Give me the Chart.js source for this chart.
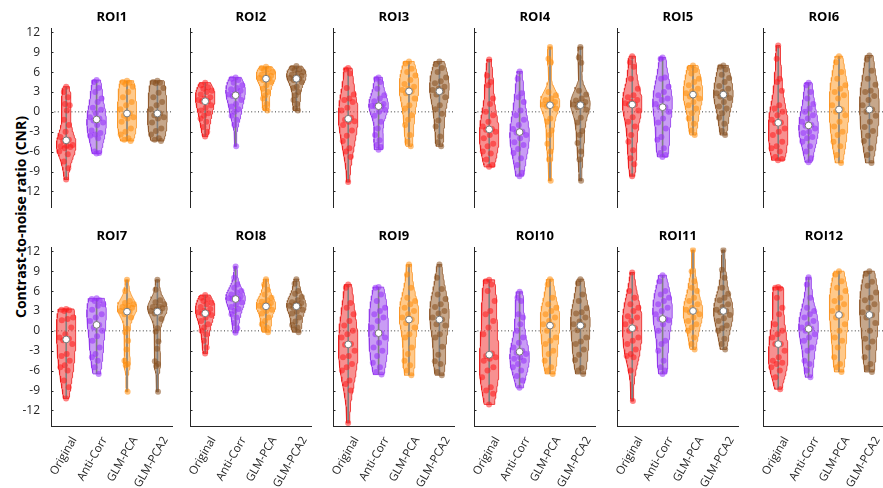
<!DOCTYPE html>
<html>
<head>
<meta charset="utf-8">
<script src="https://cdn.jsdelivr.net/npm/chart.js@4.4.1/dist/chart.umd.min.js"></script>
<style>
    html, body { margin: 0; padding: 0; background: #fff; }
    #wrap { position: relative; width: 883px; height: 488px; overflow: hidden; font-family: 'Open Sans', sans-serif; }
    .panel { position: absolute; }
    #ylabel {
        position: absolute; left: 20px; top: 217px;
        transform: translate(-50%, -50%) rotate(-90deg);
        font-weight: bold; font-size: 14px; white-space: nowrap; color: #000;
    }
</style>
</head>
<body>
<div id="wrap">
    <div id="ylabel">Contrast-to-noise ratio (CNR)</div>
</div>
<script>
// --- Data ---
const methods = ['Original', 'Anti-Corr', 'GLM-PCA', 'GLM-PCA2'];
const roiNames = ['ROI1', 'ROI2', 'ROI3', 'ROI4', 'ROI5', 'ROI6', 'ROI7', 'ROI8', 'ROI9', 'ROI10', 'ROI11', 'ROI12'];
const yTicks = [-12, -9, -6, -3, 0, 3, 6, 9, 12];

// each ROI: [Original, Anti-Corr, GLM-PCA, GLM-PCA2]
const roi1 = [
    [3.8, 3.0, 2.2, 1.2, 1.0, 0.2, -1.2, -2.0, -3.0, -3.8, -4.2, -4.4, -5.0, -5.1, -5.2, -5.3, -5.5, -6.0, -6.4, -7.5, -8.5, -10.2],
    [4.8, 4.5, 3.6, 3.0, 2.0, 1.5, 0.6, 0.3, -0.2, -0.8, -1.0, -1.3, -1.6, -2.0, -2.8, -3.2, -3.4, -3.6, -4.0, -6.0, -6.2, -6.3],
    [4.7, 4.5, 4.4, 4.2, 3.8, 3.0, 2.2, 1.5, 1.0, 0.4, -0.25, -0.6, -0.8, -1.0, -1.5, -2.5, -3.0, -3.4, -4.0, -4.2, -4.4],
    [4.7, 4.5, 4.4, 4.3, 3.6, 2.9, 2.2, 1.5, 1.0, 0.4, -0.25, -0.5, -0.8, -1.0, -1.6, -2.5, -2.9, -3.4, -4.0, -4.2, -4.4]
];
const roi2 = [
    [4.4, 4.0, 3.7, 3.5, 3.2, 3.0, 2.6, 2.2, 2.0, 1.8, 1.6, 1.6, 1.0, 0.6, 0.2, -0.2, -0.6, -1.0, -1.5, -2.3, -3.0, -3.7],
    [5.2, 5.0, 4.8, 4.4, 4.0, 3.6, 3.4, 3.2, 2.8, 2.6, 2.5, 2.4, 1.8, 1.2, 0.8, 0.4, 0.0, -0.6, -1.2, -2.0, -5.2],
    [6.8, 6.6, 6.5, 6.3, 6.0, 5.8, 5.6, 5.4, 5.2, 5.1, 5.0, 4.8, 4.5, 4.0, 3.5, 3.0, 2.5, 2.0, 1.2, 0.6, 0.2],
    [6.9, 6.6, 6.4, 6.3, 6.0, 5.8, 5.6, 5.4, 5.2, 5.1, 5.0, 4.8, 4.5, 3.8, 3.6, 3.0, 2.5, 1.8, 1.2, 0.5, 0.2]
];
const roi3 = [
    [6.6, 6.4, 5.8, 3.6, 2.6, 2.0, 1.8, 1.5, 0.6, 0.2, -0.9, -1.2, -1.4, -1.5, -2.0, -2.8, -3.6, -4.4, -5.5, -6.0, -6.8, -10.6],
    [5.2, 5.0, 4.5, 3.5, 2.5, 2.0, 1.6, 1.2, 1.0, 0.9, 0.85, 0.85, 0.3, 0.0, -0.6, -1.5, -2.5, -3.5, -4.3, -5.0, -5.3, -5.7],
    [7.6, 7.3, 6.5, 6.0, 5.5, 4.8, 4.2, 3.8, 3.5, 3.3, 3.1, 2.8, 2.0, 1.0, 0.5, -0.5, -1.2, -2.0, -3.5, -4.5, -5.2],
    [7.6, 7.2, 6.6, 6.0, 5.2, 4.6, 4.3, 3.8, 3.5, 3.3, 3.1, 2.6, 2.2, 1.0, 0.4, -0.3, -1.3, -2.2, -3.7, -4.6, -5.2]
];
const roi4 = [
    [7.9, 5.5, 4.5, 4.0, 2.0, 1.2, 0.0, -0.5, -1.5, -2.2, -2.6, -2.7, -3.0, -3.5, -4.0, -4.8, -5.2, -6.0, -6.3, -7.2, -8.0, -8.3],
    [6.1, 5.0, 2.8, 2.2, 1.5, 0.2, -0.5, -1.2, -2.0, -2.6, -3.0, -3.1, -3.5, -4.0, -4.6, -5.0, -5.6, -6.2, -7.0, -8.0, -9.2, -9.7],
    [9.8, 8.0, 7.5, 3.0, 2.5, 2.0, 1.8, 1.5, 1.3, 1.1, 1.0, 0.8, 0.5, -1.0, -1.5, -2.8, -3.5, -4.8, -6.0, -7.2, -10.4],
    [9.8, 8.2, 7.4, 3.2, 2.6, 2.0, 1.7, 1.5, 1.3, 1.1, 1.0, 0.7, 0.3, -0.9, -1.6, -2.9, -3.5, -4.7, -6.0, -7.2, -10.4]
];
const roi5 = [
    [8.4, 7.5, 6.8, 5.0, 3.5, 2.5, 2.2, 1.8, 1.5, 1.3, 1.1, 1.1, 0.2, -0.8, -1.5, -2.2, -3.5, -4.5, -5.8, -7.0, -7.9, -9.7],
    [8.2, 8.0, 5.2, 5.0, 3.8, 3.0, 2.5, 2.0, 1.8, 1.2, 0.7, 0.7, 0.0, -1.0, -1.6, -2.5, -3.8, -4.2, -5.5, -6.2, -6.5, -6.8],
    [7.0, 6.6, 6.3, 5.8, 5.0, 4.5, 4.0, 3.5, 3.1, 2.8, 2.6, 2.3, 2.0, 1.5, 1.0, 0.5, -0.2, -1.0, -1.8, -2.8, -3.5],
    [7.0, 6.8, 6.4, 5.6, 5.1, 4.5, 3.9, 3.5, 3.0, 2.8, 2.6, 2.3, 2.1, 1.5, 0.8, 0.5, -0.2, -0.9, -1.8, -2.9, -3.5]
];
const roi6 = [
    [10.0, 8.0, 5.0, 4.5, 3.2, 1.0, 0.5, 0.0, -0.5, -1.2, -1.6, -1.7, -2.5, -3.0, -3.5, -4.5, -5.2, -5.5, -6.0, -6.8, -7.1, -7.3],
    [4.4, 4.0, 3.0, 2.0, 1.2, 0.5, 0.0, -0.5, -1.0, -1.5, -2.0, -2.1, -2.5, -3.0, -3.2, -3.8, -4.0, -4.5, -5.2, -6.0, -7.0, -7.6],
    [8.4, 7.5, 6.0, 5.0, 4.0, 3.5, 3.0, 2.5, 2.0, 1.0, 0.35, 0.0, -0.5, -1.5, -2.2, -3.0, -3.5, -4.5, -5.2, -6.5, -7.7],
    [8.5, 7.9, 6.2, 5.0, 4.1, 3.2, 3.0, 2.4, 1.8, 1.0, 0.35, 0.0, -0.6, -1.5, -2.3, -2.9, -3.6, -4.4, -5.5, -6.5, -7.7]
];
const roi7 = [
    [3.3, 3.2, 3.1, 3.0, 2.0, 1.8, 1.6, 0.5, -0.5, -1.0, -1.2, -1.4, -2.0, -3.5, -3.8, -4.5, -5.2, -5.5, -6.0, -7.5, -8.5, -10.2],
    [4.9, 4.8, 4.6, 4.5, 4.0, 3.8, 3.2, 2.5, 2.0, 1.5, 0.9, 0.5, 0.0, -0.8, -1.5, -2.5, -3.5, -4.0, -4.5, -5.5, -6.5],
    [7.7, 6.0, 4.5, 4.2, 4.0, 3.8, 3.6, 3.5, 3.3, 3.0, 2.9, 2.5, 2.0, 0.3, -0.2, -1.5, -2.8, -4.5, -5.0, -5.2, -9.2],
    [7.7, 6.2, 4.6, 4.3, 4.0, 3.7, 3.6, 3.4, 3.2, 3.0, 2.9, 2.6, 1.8, 0.4, -0.1, -1.6, -2.7, -4.6, -5.0, -5.3, -9.2]
];
const roi8 = [
    [5.4, 5.0, 4.8, 4.5, 4.2, 4.0, 3.6, 3.3, 3.0, 2.8, 2.7, 2.6, 2.4, 2.0, 1.5, 1.0, 0.5, 0.0, -0.5, -1.5, -2.5, -3.4],
    [9.7, 8.0, 7.0, 6.5, 6.0, 5.8, 5.5, 5.2, 5.0, 4.9, 4.8, 4.8, 4.3, 4.0, 3.6, 3.3, 3.0, 2.5, 2.0, 1.2, 0.4, -0.3],
    [7.8, 7.0, 6.2, 5.5, 5.0, 4.6, 4.4, 4.2, 4.0, 3.8, 3.7, 3.5, 3.2, 3.0, 2.6, 2.0, 1.5, 1.0, 0.5, 0.2, -0.2],
    [7.8, 7.1, 6.0, 5.6, 5.1, 4.6, 4.3, 4.2, 4.0, 3.8, 3.7, 3.5, 3.2, 2.9, 2.6, 2.0, 1.4, 0.9, 0.5, 0.2, -0.2]
];
const roi9 = [
    [7.0, 6.5, 4.2, 3.5, 2.5, 1.5, 0.8, 0.0, -0.5, -1.0, -2.0, -2.1, -3.0, -3.8, -4.0, -5.0, -5.5, -6.0, -7.5, -8.0, -9.0, -13.9],
    [6.6, 6.5, 5.5, 4.5, 3.5, 3.0, 2.5, 2.0, 1.5, 0.5, -0.35, -0.5, -1.0, -1.8, -2.5, -3.0, -3.8, -4.8, -5.5, -6.2, -6.6],
    [10.0, 8.5, 6.5, 5.0, 4.5, 4.0, 3.5, 3.0, 2.5, 2.0, 1.7, 1.2, 0.5, -0.5, -1.0, -2.5, -3.5, -4.5, -5.2, -6.0, -6.7],
    [10.0, 8.0, 6.3, 5.5, 4.8, 4.0, 3.6, 3.0, 2.6, 2.0, 1.7, 1.0, 0.8, -0.5, -1.0, -2.4, -3.6, -4.6, -5.0, -6.2, -6.7]
];
const roi10 = [
    [7.7, 7.5, 7.0, 6.0, 4.5, 3.0, 2.5, 1.5, 0.5, -0.5, -3.4, -3.8, -4.0, -4.2, -4.5, -5.5, -6.0, -7.0, -8.5, -9.0, -9.5, -11.1],
    [5.9, 5.0, 4.5, 2.5, 2.0, 1.0, 0.0, -1.0, -1.8, -2.5, -3.0, -3.3, -3.5, -4.0, -4.2, -4.5, -5.0, -5.5, -6.0, -6.8, -7.5, -8.6],
    [7.8, 7.0, 5.0, 4.0, 3.5, 3.0, 2.5, 2.0, 1.5, 1.0, 0.8, 0.0, -1.0, -1.5, -2.0, -3.0, -3.5, -4.5, -5.5, -6.0, -6.5],
    [7.8, 7.2, 5.5, 4.5, 3.4, 2.8, 2.6, 2.0, 1.4, 1.0, 0.8, 0.1, -1.0, -1.6, -2.0, -2.8, -3.6, -4.4, -5.6, -6.0, -6.5]
];
const roi11 = [
    [8.8, 6.0, 5.0, 4.0, 3.5, 3.0, 2.2, 2.0, 1.5, 1.0, 0.4, 0.0, -1.0, -1.5, -2.0, -2.8, -3.5, -3.8, -4.0, -6.0, -10.6],
    [8.4, 7.5, 6.0, 5.5, 5.0, 4.5, 4.0, 3.5, 3.0, 2.5, 1.8, 1.8, 1.6, 1.0, 0.0, -1.5, -2.0, -3.0, -4.5, -5.5, -6.0, -6.5],
    [12.2, 9.0, 7.5, 6.5, 6.0, 5.0, 4.5, 4.0, 3.5, 3.2, 3.0, 2.8, 2.5, 2.0, 1.5, 1.0, 0.5, 0.0, -1.0, -2.0, -2.8],
    [12.2, 9.2, 8.0, 6.5, 5.6, 5.0, 4.6, 4.0, 3.6, 3.2, 3.0, 2.8, 2.4, 1.9, 1.5, 0.8, 0.4, 0.0, -1.2, -2.0, -2.8]
];
const roi12 = [
    [6.6, 6.5, 6.4, 5.0, 3.5, 2.5, 1.0, 0.0, -0.5, -1.0, -2.0, -2.0, -3.0, -4.0, -4.5, -4.8, -5.0, -5.5, -6.0, -7.0, -8.8],
    [8.1, 7.0, 5.0, 3.5, 3.0, 2.5, 2.0, 1.5, 1.0, 0.5, 0.3, 0.0, -0.5, -1.0, -1.5, -2.5, -3.0, -4.5, -5.0, -6.0, -7.0],
    [9.0, 8.5, 7.5, 6.5, 6.0, 5.0, 4.5, 4.0, 3.5, 3.0, 2.4, 2.0, 1.0, 0.0, -1.0, -1.5, -2.5, -4.0, -5.0, -5.5, -6.2],
    [9.0, 8.6, 7.4, 6.8, 5.8, 5.0, 4.6, 4.0, 3.5, 2.8, 2.4, 2.0, 1.2, 0.0, -1.2, -1.6, -2.5, -4.0, -5.0, -5.6, -6.2]
];
const rois = [roi1, roi2, roi3, roi4, roi5, roi6, roi7, roi8, roi9, roi10, roi11, roi12];

// --- Styles ---
const fillColors = ['rgba(244,70,70,0.6)', 'rgba(165,90,238,0.6)', 'rgba(255,165,60,0.6)', 'rgba(160,108,62,0.6)'];
const edgeColors = ['rgba(235,30,30,0.8)', 'rgba(145,55,235,0.8)', 'rgba(250,150,40,0.8)', 'rgba(145,90,45,0.8)'];
const dotColors = ['rgba(255,25,25,0.55)', 'rgba(150,45,250,0.55)', 'rgba(255,140,10,0.55)', 'rgba(135,78,30,0.55)'];
const FONT = "'Open Sans', sans-serif";

// --- Layout ---
const colX = [50.7, 190, 332.7, 473.7, 616.7, 762.7];   // left edge of each plot area
const rowTop = [28.7, 248];                              // top edge of each plot area
const YW = 42, PLOT_W = 125.5, PLOT_H = 178.7, TITLE_H = 21.6, XH = 62;
const Y_MIN = -14.4, Y_MAX = 12.56;
const VIOLIN_W = 0.32, BW_SCALE = 0.85, STEPS = 60;

// --- Helpers ---
function median(a) {
    const s = [...a].sort((p, q) => p - q);
    const n = s.length;
    return n % 2 ? s[(n - 1) / 2] : (s[n / 2 - 1] + s[n / 2]) / 2;
}
function bandwidth(a) {
    const m = median(a);
    const sig = median(a.map(v => Math.abs(v - m))) / 0.6745;
    return sig * Math.pow(4 / (3 * a.length), 0.2) * BW_SCALE;
}
function density(a, h, y) {
    let s = 0;
    for (const v of a) { const u = (y - v) / h; s += Math.exp(-0.5 * u * u); }
    return s;
}
// spreads points across the violin width, no randomness
function spread(i) { return ((i * 0.6180339887 + 0.5) % 1) * 2 - 1; }

function buildDatasets(groups) {
    const sets = [];
    groups.forEach((vals, k) => {
        const c = k + 1;
        const lo = Math.min(...vals), hi = Math.max(...vals);
        const h = bandwidth(vals);
        const grid = [];
        for (let i = 0; i <= STEPS; i++) grid.push(lo + (hi - lo) * i / STEPS);
        const dens = grid.map(y => density(vals, h, y));
        const dmax = Math.max(...dens);
        const right = grid.map((y, i) => ({ x: c + VIOLIN_W * dens[i] / dmax, y }));
        const left = grid.map((y, i) => ({ x: c - VIOLIN_W * dens[i] / dmax, y })).reverse();
        const outline = right.concat(left, [right[0]]);
        const pts = vals.map((v, i) => ({
            x: c + spread(i) * 0.8 * VIOLIN_W * density(vals, h, v) / dmax,
            y: v
        }));

        sets.push({
            type: 'line', data: outline, fill: 'shape', tension: 0,
            backgroundColor: fillColors[k], borderColor: edgeColors[k], borderWidth: 1,
            pointRadius: 0, order: 4
        });
        sets.push({
            type: 'line', data: [{ x: c, y: lo }, { x: c, y: hi }], fill: false,
            borderColor: 'rgb(128,128,128)', borderWidth: 1.6, pointRadius: 0, order: 3
        });
        sets.push({
            data: pts, pointRadius: 3, pointHoverRadius: 3,
            backgroundColor: dotColors[k], borderWidth: 0, order: 2
        });
        sets.push({
            data: [{ x: c, y: median(vals) }], pointRadius: 3.4, pointHoverRadius: 3.4,
            backgroundColor: '#fff', borderColor: 'rgb(120,120,120)', borderWidth: 1, order: 1
        });
    });
    return sets;
}

// dotted zero line and inward tick marks
const panelDecor = {
    id: 'panelDecor',
    beforeDatasetsDraw(chart) {
        const { ctx, chartArea, scales: { y } } = chart;
        const py = y.getPixelForValue(0);
        ctx.save();
        ctx.strokeStyle = '#3a3a3a';
        ctx.lineWidth = 1;
        ctx.setLineDash([1, 2.4]);
        ctx.beginPath();
        ctx.moveTo(chartArea.left, py);
        ctx.lineTo(chartArea.right, py);
        ctx.stroke();
        ctx.restore();
    },
    afterDraw(chart) {
        const { ctx, chartArea, scales: { y } } = chart;
        ctx.save();
        ctx.strokeStyle = '#262626';
        ctx.lineWidth = 1;
        yTicks.forEach(t => {
            const py = Math.round(y.getPixelForValue(t)) + 0.5;
            ctx.beginPath();
            ctx.moveTo(chartArea.left, py);
            ctx.lineTo(chartArea.left + 2.5, py);
            ctx.stroke();
        });
        ctx.restore();
    }
};

// --- Panels ---
const wrap = document.getElementById('wrap');
rois.forEach((groups, idx) => {
    const row = Math.floor(idx / 6), col = idx % 6;
    const bottomRow = row === 1;
    const xh = bottomRow ? XH : 0;
    const w = Math.ceil(YW + PLOT_W);
    const h = Math.ceil(TITLE_H + PLOT_H + (bottomRow ? XH : 5));
    const canvas = document.createElement('canvas');
    canvas.className = 'panel';
    canvas.width = w;
    canvas.height = h;
    canvas.style.left = (colX[col] - YW) + 'px';
    canvas.style.top = (rowTop[row] - TITLE_H) + 'px';
    wrap.appendChild(canvas);

    new Chart(canvas, {
        type: 'scatter',
        data: { datasets: buildDatasets(groups) },
        options: {
            responsive: false,
            animation: false,
            events: [],
            layout: { padding: { top: 0, left: 0, right: w - YW - PLOT_W, bottom: h - TITLE_H - PLOT_H - xh } },
            plugins: {
                legend: { display: false },
                tooltip: { enabled: false },
                title: {
                    display: true,
                    text: roiNames[idx],
                    fullSize: false,
                    color: '#000',
                    font: { family: FONT, size: 13, weight: 'bold' },
                    padding: { top: 2, bottom: 4 }
                }
            },
            scales: {
                x: {
                    type: 'linear',
                    min: 0.5, max: 4.5,
                    display: bottomRow,
                    afterBuildTicks: s => { s.ticks = methods.map((m, i) => ({ value: i + 1 })); },
                    afterFit: s => { s.height = xh; s.paddingLeft = 0; s.paddingRight = 0; },
                    grid: { display: false },
                    border: { display: true, color: '#262626', width: 1 },
                    ticks: {
                        autoSkip: false,
                        minRotation: 60, maxRotation: 60,
                        padding: 0,
                        labelOffset: 8,
                        color: '#262626',
                        font: { family: FONT, size: 11.5 },
                        callback: v => methods[Math.round(v) - 1]
                    }
                },
                y: {
                    min: Y_MIN, max: Y_MAX,
                    afterBuildTicks: s => { s.ticks = yTicks.map(v => ({ value: v })); },
                    afterFit: s => { s.width = YW; s.paddingTop = 0; s.paddingBottom = 0; },
                    grid: { display: false },
                    border: { display: true, color: '#262626', width: 1 },
                    ticks: {
                        display: col === 0,
                        padding: 3,
                        color: '#262626',
                        font: { family: FONT, size: 12 }
                    }
                }
            }
        },
        plugins: [panelDecor]
    });
});
</script>
</body>
</html>
